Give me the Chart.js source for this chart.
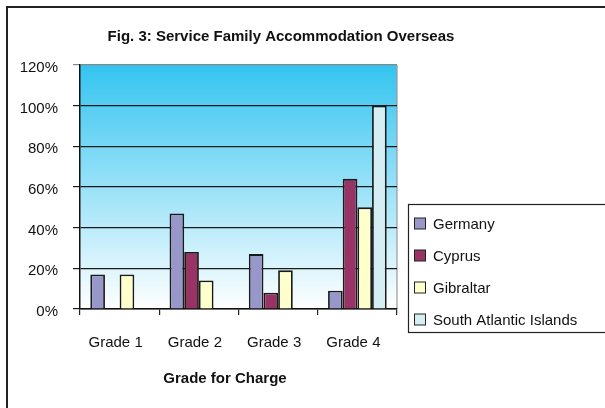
<!DOCTYPE html>
<html>
<head>
<meta charset="utf-8">
<script src="https://cdn.jsdelivr.net/npm/chart.js@4/dist/chart.umd.min.js"></script>
<style>
    html, body { margin: 0; padding: 0; background: #fff; overflow: hidden; }
    #wrap { position: relative; width: 605px; height: 408px; }
    #frame { position: absolute; left: 6px; top: 6px; width: 700px; height: 500px;
             border-top: 2px solid #222; border-left: 2px solid #222; }
    #chart { position: absolute; left: 0; top: 0; }
</style>
</head>
<body>
<div id="wrap">
    <div id="frame"></div>
    <canvas id="chart" width="605" height="408"></canvas>
</div>
<script>
// Chart data
const grades = ['Grade 1', 'Grade 2', 'Grade 3', 'Grade 4'];
const germany = [17, 47, 27, 9];
const cyprus = [0, 28, 8, 64];
const gibraltar = [17, 14, 19, 50];
const southAtlantic = [0, 0, 0, 100];
const yTicks = [0, 20, 40, 60, 80, 100, 120];

const chartTitle = 'Fig. 3: Service Family Accommodation Overseas';
const xAxisTitle = 'Grade for Charge';
const FONT = '"Liberation Sans", Arial, sans-serif';

// Gradient background + right border of the plot area
const plotBackground = {
    id: 'plotBackground',
    beforeDraw(chart) {
        const { ctx, chartArea: a } = chart;
        const g = ctx.createLinearGradient(0, a.top, 0, a.bottom);
        g.addColorStop(0, '#33c4f0');
        g.addColorStop(1, '#ffffff');
        ctx.save();
        ctx.fillStyle = g;
        ctx.fillRect(a.left, a.top, a.right - a.left, a.bottom - a.top);
        ctx.strokeStyle = '#999';
        ctx.lineWidth = 1.2;
        ctx.beginPath();
        ctx.moveTo(a.right, a.top);
        ctx.lineTo(a.right, a.bottom);
        ctx.stroke();
        ctx.restore();
    }
};

// Title, x axis title and boxed legend
const decorations = {
    id: 'decorations',
    afterDraw(chart) {
        const ctx = chart.ctx;
        ctx.save();
        ctx.fillStyle = '#111';
        ctx.textBaseline = 'middle';
        ctx.textAlign = 'center';
        ctx.font = 'bold 15px ' + FONT;
        ctx.fillText(chartTitle, 281, 37);
        ctx.fillText(xAxisTitle, 225, 379);

        // legend box
        ctx.strokeStyle = '#222';
        ctx.lineWidth = 1.2;
        ctx.strokeRect(408.5, 204.5, 260, 128);
        ctx.textAlign = 'left';
        ctx.font = '15px ' + FONT;
        chart.data.datasets.forEach(function(ds, i) {
            const y = 224 + i * 32;
            ctx.fillStyle = ds.backgroundColor;
            ctx.fillRect(414.5, y - 6, 11, 11);
            ctx.strokeStyle = '#222';
            ctx.lineWidth = 1;
            ctx.strokeRect(414.5, y - 6, 11, 11);
            ctx.fillStyle = '#111';
            ctx.fillText(ds.label, 433, y + 1);
        });
        ctx.restore();
    }
};

function makeDataset(label, data, color) {
    return {
        label: label,
        data: data,
        backgroundColor: color,
        borderColor: '#1a1a1a',
        borderWidth: 1.8,
        borderSkipped: 'start',
        categoryPercentage: 0.74,
        barPercentage: 1.0
    };
}

const ctx = document.getElementById('chart').getContext('2d');
window.serviceChart = new Chart(ctx, {
    type: 'bar',
    data: {
        labels: grades,
        datasets: [
            makeDataset('Germany', germany, '#9797ca'),
            makeDataset('Cyprus', cyprus, '#993366'),
            makeDataset('Gibraltar', gibraltar, '#ffffcc'),
            makeDataset('South Atlantic Islands', southAtlantic, '#d4eef4')
        ]
    },
    options: {
        responsive: false,
        animation: false,
        layout: {
            padding: { left: 8, top: 65, right: 208, bottom: 0 }
        },
        plugins: {
            legend: { display: false },
            title: { display: false },
            tooltip: { enabled: false }
        },
        scales: {
            x: {
                afterFit: function(scale) { scale.height = 99; },
                grid: {
                    drawOnChartArea: false,
                    drawTicks: true,
                    tickLength: 6,
                    color: '#222',
                    lineWidth: 1.2
                },
                border: { color: '#111', width: 1.5 },
                ticks: {
                    color: '#111',
                    font: { family: FONT, size: 15 },
                    padding: 19,
                    labelOffset: -4
                }
            },
            y: {
                min: 0,
                max: 120,
                afterFit: function(scale) { scale.width = 72; },
                afterBuildTicks: function(scale) {
                    scale.ticks = yTicks.map(v => ({ value: v }));
                },
                grid: {
                    color: ctx => (ctx.tick && ctx.tick.value === 120) ? '#888' : '#1a1a1a',
                    lineWidth: 1.2,
                    tickLength: 7,
                    drawTicks: true
                },
                border: { color: '#111', width: 1.5 },
                ticks: {
                    color: '#111',
                    font: { family: FONT, size: 15 },
                    padding: 15,
                    labelOffset: 3,
                    callback: v => v + '%'
                }
            }
        }
    },
    plugins: [plotBackground, decorations]
});
</script>
</body>
</html>
